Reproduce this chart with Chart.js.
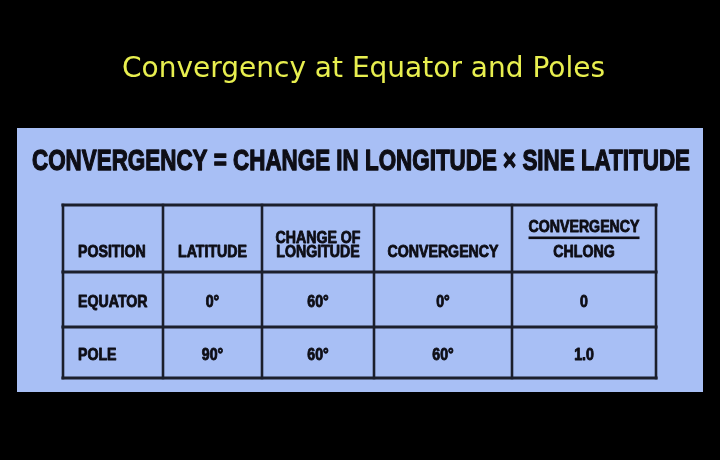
<!DOCTYPE html>
<html>
<head>
<meta charset="utf-8">
<title>Convergency at Equator and Poles</title>
<script src="https://cdn.jsdelivr.net/npm/chart.js@4.4.1/dist/chart.umd.min.js"></script>
<style>
    html, body { margin: 0; padding: 0; background: #000; }
    #chart { display: block; }
</style>
</head>
<body>
<canvas id="chart" width="720" height="460"></canvas>
<script>
const title = 'Convergency at Equator and Poles';
const formula = 'CONVERGENCY = CHANGE IN LONGITUDE \u00d7 SINE LATITUDE';
const headers = [['POSITION'], ['LATITUDE'], ['CHANGE OF', 'LONGITUDE'], ['CONVERGENCY'], ['CONVERGENCY', 'CHLONG']];
const positions = ['EQUATOR', 'POLE'];
const latitude = ['0\u00b0', '90\u00b0'];
const changeOfLongitude = ['60\u00b0', '60\u00b0'];
const convergency = ['0\u00b0', '60\u00b0'];
const ratio = ['0', '1.0'];

// table grid, in table units (column / row edges)
const colEdges = [0, 100, 199, 311, 449, 593];
const rowEdges = [0, 67, 122, 173];
const fractionCol = 4;

const cellFont = "bold 17px 'Liberation Sans', Arial, sans-serif";
const ink = '#0e0e16';
const lineColor = '#1b1f2c';

// weight > 0 thickens the glyphs a bit (the slide uses a heavy face)
function drawScaled(ctx, text, x, y, sx, align, weight) {
    ctx.save();
    ctx.translate(x, y);
    ctx.scale(sx, 1);
    ctx.textAlign = align;
    ctx.fillText(text, 0, 0);
    if (weight) {
        ctx.strokeStyle = ctx.fillStyle;
        ctx.lineWidth = weight;
        ctx.lineJoin = 'round';
        ctx.strokeText(text, 0, 0);
    }
    ctx.restore();
}

// squeeze a string to a given width, like the condensed type on the slide
function fitWidth(ctx, text, width) {
    return width / ctx.measureText(text).width;
}

const backdrop = {
    id: 'backdrop',
    beforeDraw(chart) {
        const ctx = chart.ctx;
        ctx.save();
        ctx.fillStyle = '#000';
        ctx.fillRect(0, 0, chart.width, chart.height);
        ctx.fillStyle = '#a8bff5';
        ctx.fillRect(17, 128, 686, 264);

        ctx.textBaseline = 'alphabetic';
        ctx.fillStyle = '#e8ef4f';
        ctx.font = "29px 'DejaVu Sans', Tahoma, sans-serif";
        drawScaled(ctx, title, 363.5, 77, fitWidth(ctx, title, 483), 'center');

        ctx.fillStyle = ink;
        ctx.font = "bold 29px 'Liberation Sans', Arial, sans-serif";
        drawScaled(ctx, formula, 361, 170, fitWidth(ctx, formula, 658), 'center', 1.3);
        ctx.restore();
    }
};

const table = {
    id: 'table',
    afterDraw(chart) {
        const ctx = chart.ctx;
        const xs = chart.scales.x;
        const ys = chart.scales.y;
        const px = v => xs.getPixelForValue(v);
        const py = v => ys.getPixelForValue(v);

        ctx.save();
        ctx.font = cellFont;
        ctx.fillStyle = ink;
        ctx.textBaseline = 'alphabetic';
        const sx = fitWidth(ctx, 'CONVERGENCY', 111);
        const w8 = 0.9;

        // header row
        headers.forEach((lines, c) => {
            const left = px(colEdges[c]);
            const mid = px((colEdges[c] + colEdges[c + 1]) / 2);
            const bottom = py(rowEdges[1]);
            const x = c === 0 ? left + 15 : mid;
            const align = c === 0 ? 'left' : 'center';
            if (lines.length === 1) {
                drawScaled(ctx, lines[0], x, bottom - 15, sx, align, w8);
            } else if (c === fractionCol) {
                drawScaled(ctx, lines[0], x, bottom - 40, sx, align, w8);
                drawScaled(ctx, lines[1], x, bottom - 15, sx, align, w8);
                const w = ctx.measureText(lines[0]).width * sx;
                ctx.fillRect(x - w / 2, bottom - 35.5, w, 2.6);
            } else {
                drawScaled(ctx, lines[0], x, bottom - 29, sx, align, w8);
                drawScaled(ctx, lines[1], x, bottom - 15, sx, align, w8);
            }
        });

        // body rows
        const columns = [positions, latitude, changeOfLongitude, convergency, ratio];
        positions.forEach((_, r) => {
            const y = py((rowEdges[r + 1] + rowEdges[r + 2]) / 2) + 7;
            columns.forEach((col, c) => {
                if (c === 0) {
                    drawScaled(ctx, col[r], px(colEdges[0]) + 15, y, sx, 'left', w8);
                } else {
                    drawScaled(ctx, col[r], px((colEdges[c] + colEdges[c + 1]) / 2), y, sx, 'center', w8);
                }
            });
        });

        // grid lines
        ctx.strokeStyle = lineColor;
        ctx.lineCap = 'square';
        ctx.lineWidth = 2.6;
        colEdges.forEach(v => {
            ctx.beginPath();
            ctx.moveTo(px(v), py(rowEdges[0]));
            ctx.lineTo(px(v), py(rowEdges[rowEdges.length - 1]));
            ctx.stroke();
        });
        ctx.lineWidth = 3.2;
        rowEdges.forEach(v => {
            ctx.beginPath();
            ctx.moveTo(px(colEdges[0]), py(v));
            ctx.lineTo(px(colEdges[colEdges.length - 1]), py(v));
            ctx.stroke();
        });
        ctx.restore();
    }
};

const ctx = document.getElementById('chart').getContext('2d');
const chart = new Chart(ctx, {
    type: 'scatter',
    data: {
        datasets: [{
            label: 'cells',
            data: [],
            pointRadius: 0
        }]
    },
    options: {
        responsive: false,
        animation: false,
        events: [],
        layout: {
            padding: { left: 63, top: 205, right: 64, bottom: 82 }
        },
        scales: {
            x: { type: 'linear', min: colEdges[0], max: colEdges[colEdges.length - 1], display: false },
            y: { type: 'linear', min: rowEdges[0], max: rowEdges[rowEdges.length - 1], reverse: true, display: false }
        },
        plugins: {
            legend: { display: false },
            tooltip: { enabled: false }
        }
    },
    plugins: [backdrop, table]
});
</script>
</body>
</html>
